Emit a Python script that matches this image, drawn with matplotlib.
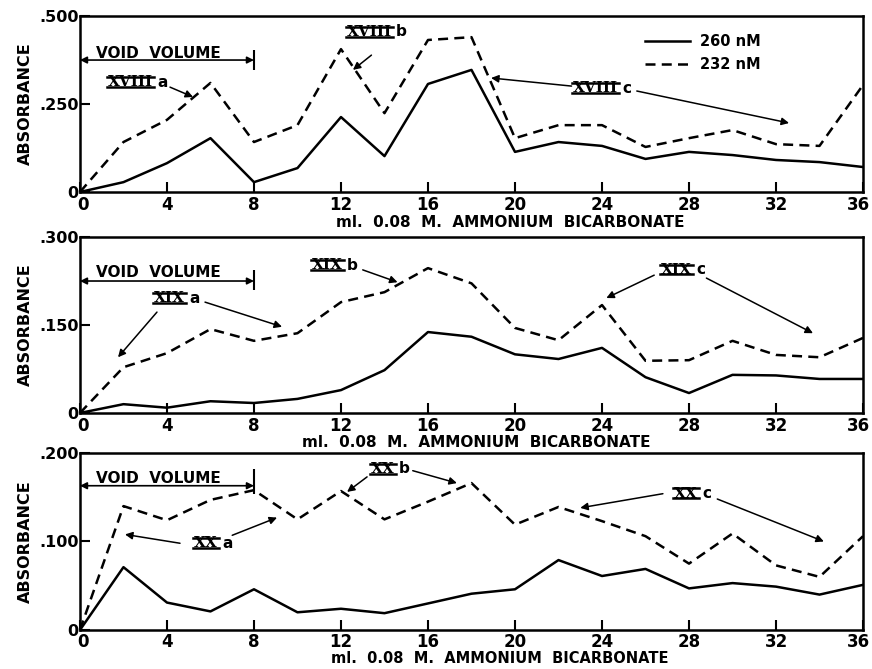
import matplotlib.pyplot as plt
from matplotlib.lines import Line2D
from matplotlib.transforms import ScaledTranslation

plt.rcParams['font.family'] = 'DejaVu Sans'
plt.rcParams['font.weight'] = 'bold'

# ml of eluent (fraction volumes)
ml = [0, 2, 4, 6, 8, 10, 12, 14, 16, 18, 20, 22, 24, 26, 28, 30, 32, 34, 36]

# absorbance
xviii_260 = [0, 0.028, 0.082, 0.153, 0.028, 0.068, 0.213, 0.102, 0.307, 0.347,
             0.114, 0.142, 0.131, 0.094, 0.114, 0.105, 0.091, 0.085, 0.071]
xviii_232 = [0, 0.142, 0.205, 0.310, 0.142, 0.190, 0.406, 0.224, 0.432, 0.440,
             0.153, 0.190, 0.190, 0.128, 0.153, 0.176, 0.136, 0.131, 0.304]
xix_260 = [0, 0.015, 0.009, 0.020, 0.017, 0.024, 0.039, 0.073, 0.138, 0.130,
           0.100, 0.092, 0.111, 0.061, 0.034, 0.065, 0.064, 0.058, 0.058]
xix_232 = [0, 0.078, 0.102, 0.143, 0.123, 0.136, 0.189, 0.206, 0.247, 0.221,
           0.145, 0.124, 0.184, 0.089, 0.090, 0.123, 0.099, 0.095, 0.128]
xx_260 = [0, 0.071, 0.031, 0.021, 0.046, 0.020, 0.024, 0.019, 0.030, 0.041,
          0.046, 0.079, 0.061, 0.069, 0.047, 0.053, 0.049, 0.040, 0.051]
xx_232 = [0, 0.140, 0.124, 0.147, 0.158, 0.125, 0.157, 0.125, 0.145, 0.166,
          0.119, 0.139, 0.123, 0.106, 0.075, 0.109, 0.073, 0.060, 0.106]

x_ticks = [0, 4, 8, 12, 16, 20, 24, 28, 32, 36]
y_ticks = [[0, 0.25, 0.5], [0, 0.15, 0.3], [0, 0.1, 0.2]]
y_tick_labels = [['0', '.250', '.500'], ['0', '.150', '.300'], ['0', '.100', '.200']]
xlabel = 'ml.  0.08  M.  AMMONIUM  BICARBONATE'

# axes boxes (fig fraction) and xlabel placement (axes fraction)
boxes = [[0.0917, 0.713, 0.898, 0.263],
         [0.0917, 0.3827, 0.898, 0.263],
         [0.0917, 0.0583, 0.898, 0.2646]]
xlabel_pos = [(0.55, -0.13), (0.506, -0.125), (0.536, -0.119)]
xlabel_size = [11, 11, 10.5]
xtick_pad = [3, 3, 2]

# void volume bracket: y of arrow, baseline of text, bar extent
void_y = [(0.375, 0.381, 0.347, 0.403), (0.225, 0.232, 0.210, 0.244), (0.163, 0.166, 0.154, 0.182)]

# peak labels: numeral, letter, right edge of numeral (x, y), arrows [(tail, head)]
labels = [
    [('XVIII', 'a', (3.36, 0.3125), [((4.14, 0.298), (5.2, 0.27))]),
     ('XVIII', 'b', (14.34, 0.455), [((13.4, 0.389), (12.55, 0.347))]),
     ('XVIII', 'c', (24.74, 0.295), [((22.6, 0.301), (18.9, 0.324)),
                                    ((25.6, 0.287), (32.6, 0.196))])],
    [('XIX', 'a', (4.83, 0.196), [((3.54, 0.172), (1.75, 0.095)),
                                 ((5.75, 0.189), (9.29, 0.147))]),
     ('XIX', 'b', (12.09, 0.252), [((13.0, 0.244), (14.6, 0.223))]),
     ('XIX', 'c', (28.14, 0.244), [((26.4, 0.235), (24.2, 0.196)),
                                  ((28.8, 0.23), (33.7, 0.136))])],
    [('XX', 'a', (6.34, 0.098), [((4.6, 0.098), (2.07, 0.108)),
                                ((7.0, 0.107), (9.06, 0.127))]),
     ('XX', 'b', (14.48, 0.182), [((13.2, 0.173), (12.28, 0.156)),
                                 ((15.3, 0.18), (17.33, 0.166))]),
     ('XX', 'c', (28.41, 0.154), [((26.8, 0.154), (23.0, 0.138)),
                                 ((29.3, 0.148), (34.2, 0.1))])],
]

series = [(xviii_260, xviii_232), (xix_260, xix_232), (xx_260, xx_232)]
dash = (0, (4, 2.5))

fig = plt.figure(figsize=(8.72, 6.69), dpi=100)
numeral_texts = []
axes = []

for i, (s260, s232) in enumerate(series):
    ax = fig.add_axes(boxes[i])
    axes.append(ax)
    ax.plot(ml, s260, color='k', lw=1.8, label='260 nM')
    ax.plot(ml, s232, color='k', lw=1.8, ls=dash, label='232 nM')
    ax.set_xlim(0, 36)
    ax.set_ylim(0, y_ticks[i][-1])
    ax.set_xticks(x_ticks)
    ax.set_xticklabels([str(t) for t in x_ticks])
    ax.set_yticks(y_ticks[i])
    ax.set_yticklabels(y_tick_labels[i])
    ax.tick_params(direction='in', length=7, width=1.5, labelsize=12, pad=xtick_pad[i])
    ax.tick_params(axis='y', pad=1, labelsize=11.5)
    for sp in ax.spines.values():
        sp.set_linewidth(1.8)
    ax.set_ylabel('ABSORBANCE', fontsize=11.5, fontweight='bold')
    ax.yaxis.set_label_coords(-0.06, 0.5)
    ax.set_xlabel(xlabel, fontsize=xlabel_size[i], fontweight='bold')
    ax.xaxis.set_label_coords(*xlabel_pos[i])

    # void volume bracket
    ya, yt, yb0, yb1 = void_y[i]
    ax.annotate('', xy=(0, ya), xytext=(8, ya),
                arrowprops=dict(arrowstyle='<|-|>', color='k', lw=1.2,
                                mutation_scale=10, shrinkA=0, shrinkB=0))
    ax.vlines(8, yb0, yb1, color='k', lw=1.5)
    ax.text(0.75, yt, 'VOID  VOLUME', fontsize=11, fontweight='bold',
            ha='left', va='baseline')

    for numeral, letter, (tx, ty), arrows in labels[i]:
        t = ax.text(tx, ty, numeral, family='DejaVu Serif', fontsize=11,
                    fontweight='bold', ha='right', va='center')
        numeral_texts.append(t)
        ax.annotate(letter, xy=(tx, ty), xytext=(3, 0), textcoords='offset points',
                    fontsize=11, fontweight='bold', ha='left', va='center')
        for tail, head in arrows:
            ax.annotate('', xy=head, xytext=tail,
                        arrowprops=dict(arrowstyle='-|>', color='k', lw=1.1,
                                        mutation_scale=11, shrinkA=0, shrinkB=0))

    if i == 0:
        ax.legend(loc='upper left', bbox_to_anchor=(0.7216, 0.9), frameon=False,
                  fontsize=10.5, handlelength=3.1, handletextpad=0.7,
                  labelspacing=0.55, borderpad=0, borderaxespad=0)

fig.canvas.draw()
renderer = fig.canvas.get_renderer()

# nudge the end tick labels inward like the original
for ax in axes:
    tl = ax.xaxis.get_ticklabels()
    tl[0].set_transform(tl[0].get_transform() + ScaledTranslation(3 / 100, 0, fig.dpi_scale_trans))
    tl[-1].set_transform(tl[-1].get_transform() + ScaledTranslation(-5 / 100, 0, fig.dpi_scale_trans))

# bars above and below the roman numerals
inv = fig.transFigure.inverted()
for t in numeral_texts:
    bb = t.get_window_extent(renderer)
    h = bb.height
    for yy in (bb.y1 - 0.12 * h, bb.y0 + 0.17 * h):
        (x0, y0), (x1, y1) = inv.transform([(bb.x0 - 1, yy), (bb.x1 + 1, yy)])
        fig.add_artist(Line2D([x0, x1], [y0, y1], color='k', lw=1.8))

fig.savefig('out.png', dpi=100)
